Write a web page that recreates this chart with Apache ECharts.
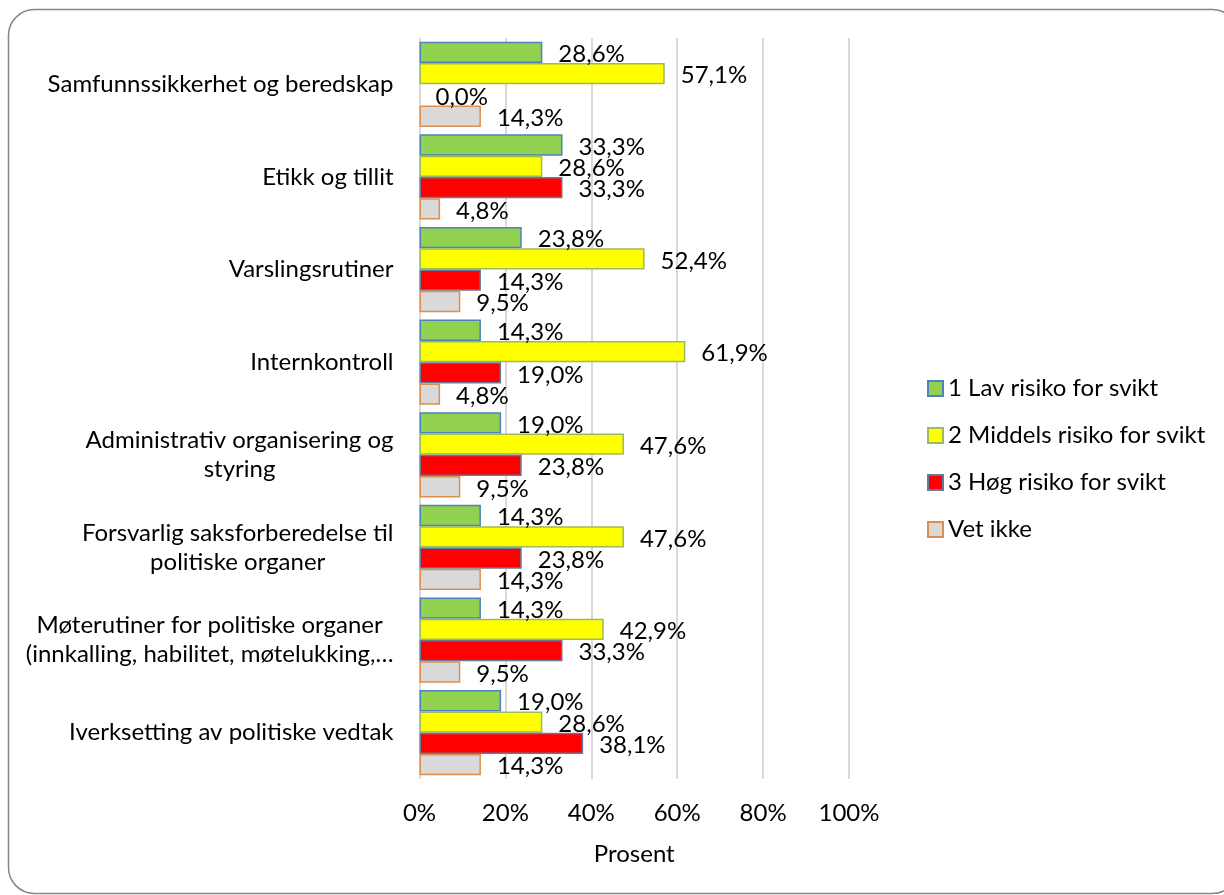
<!DOCTYPE html>
<html>
<head>
<meta charset="utf-8">
<script src="https://cdn.jsdelivr.net/npm/echarts@6/dist/echarts.min.js"></script>
<style>
  html, body { margin: 0; padding: 0; background: #fff; }
  #main { width: 1224px; height: 895px; }
</style>
</head>
<body>
<div id="main"></div>
<script>
// categories, top to bottom
const categories = [
  'Samfunnssikkerhet og beredskap',
  'Etikk og tillit',
  'Varslingsrutiner',
  'Internkontroll',
  'Administrativ organisering og\nstyring',
  'Forsvarlig saksforberedelse til\npolitiske organer',
  'Møterutiner for politiske organer\n(innkalling, habilitet, møtelukking,…',
  'Iverksetting av politiske vedtak'
];

const seriesNames = ['1 Lav risiko for svikt', '2 Middels risiko for svikt', '3 Høg risiko for svikt', 'Vet ikke'];

// percent values per series
const lavRisiko = [28.6, 33.3, 23.8, 14.3, 19.0, 14.3, 14.3, 19.0];
const middelsRisiko = [57.1, 28.6, 52.4, 61.9, 47.6, 47.6, 42.9, 28.6];
const hogRisiko = [0.0, 33.3, 14.3, 19.0, 23.8, 23.8, 33.3, 38.1];
const vetIkke = [14.3, 4.8, 9.5, 4.8, 9.5, 14.3, 9.5, 14.3];

const xTicks = [0, 20, 40, 60, 80, 100];

const FONT = 'Lato';
const FS = 24;

const fills = ['#92D050', '#FFFF00', '#FF0000', '#D9D9D9'];
const borders = ['#4F81BD', '#9BBB59', '#66799A', '#DE8F4E'];
const seriesData = [lavRisiko, middelsRisiko, hogRisiko, vetIkke];

const myChart = echarts.init(document.getElementById('main'));

const series = seriesData.map((data, i) => ({
  name: seriesNames[i],
  type: 'bar',
  // a 0 % bar has no visible outline in the original
  data: data.map((v) => (v === 0 ? { value: v, itemStyle: { borderWidth: 0 } } : v)),
  barGap: '0%',
  barCategoryGap: '8%',
  itemStyle: {
    color: fills[i],
    borderColor: borders[i],
    borderWidth: 1.5
  },
  label: {
    show: true,
    position: 'right',
    distance: 16,
    offset: [0, 2],
    color: '#000',
    fontFamily: FONT,
    fontSize: FS,
    formatter: (p) => p.value.toFixed(1).replace('.', ',') + '%'
  }
}));

const option = {
  backgroundColor: '#fff',
  animation: false,
  graphic: [{
    type: 'rect',
    shape: { x: 8.5, y: 9.5, width: 1230, height: 884, r: 26 },
    style: { fill: 'none', stroke: '#868686', lineWidth: 1.5 },
    silent: true
  }],
  grid: {
    left: 419.5,
    right: 375,
    top: 38,
    bottom: 116
  },
  legend: {
    orient: 'vertical',
    left: 922,
    top: 371,
    icon: 'rect',
    itemWidth: 15,
    itemHeight: 15,
    itemGap: 22,
    data: seriesNames,
    textStyle: {
      color: '#000',
      fontFamily: FONT,
      fontSize: FS,
      lineHeight: 25
    }
  },
  xAxis: {
    type: 'value',
    min: xTicks[0],
    max: xTicks[xTicks.length - 1],
    interval: 20,
    name: 'Prosent',
    nameLocation: 'middle',
    nameGap: 63,
    nameTextStyle: { color: '#000', fontFamily: FONT, fontSize: FS },
    axisLine: { show: false },
    axisTick: { show: false },
    axisLabel: {
      color: '#000',
      fontFamily: FONT,
      fontSize: FS,
      margin: 22,
      formatter: '{value}%'
    },
    splitLine: { show: true, lineStyle: { color: '#D9D9D9', width: 2 } }
  },
  yAxis: {
    type: 'category',
    inverse: true,
    data: categories,
    axisLine: { show: false },
    axisTick: { show: false },
    axisLabel: {
      margin: 26,
      formatter: (v) => v.split('\n').map((l) => '{c|' + l + '}').join('\n'),
      rich: {
        c: {
          align: 'center',
          color: '#000',
          fontFamily: FONT,
          fontSize: FS,
          lineHeight: 29
        }
      }
    }
  },
  series: series
};

myChart.setOption(option);
</script>
</body>
</html>
